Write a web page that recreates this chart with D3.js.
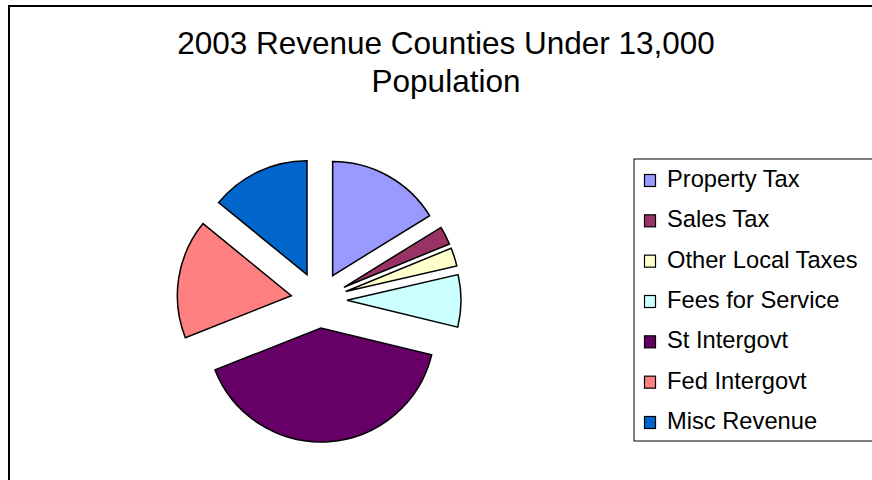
<!DOCTYPE html>
<html>
<head>
<meta charset="utf-8">
<script src="https://cdn.jsdelivr.net/npm/d3@7"></script>
<style>
  body { margin: 0; background: #fff; }
  svg { display: block; font-family: Arial, "Liberation Sans", sans-serif; }
</style>
</head>
<body>
<script>
// revenue share by source (percent of total)
var categories = ["Property Tax", "Sales Tax", "Other Local Taxes", "Fees for Service",
                  "St Intergovt", "Fed Intergovt", "Misc Revenue"];
var values = [16.2, 2.6, 2.6, 7.4, 40.2, 16.9, 14.1];
var colors = ["#9999FF", "#993366", "#FFFFCC", "#CCFFFF", "#660066", "#FF8080", "#0066CC"];
var titleLines = ["2003 Revenue Counties Under 13,000", "Population"];

var width = 872, height = 480;

var svg = d3.select("body").append("svg")
    .attr("width", width)
    .attr("height", height);

//__chart area border__//
svg.append("rect")
    .attr("x", 9).attr("y", 6)
    .attr("width", width + 20).attr("height", height + 20)
    .attr("fill", "white")
    .attr("stroke", "black")
    .attr("stroke-width", 2);

//__title__//
svg.append("g").selectAll("text")
    .data(titleLines)
    .enter().append("text")
    .attr("x", 446)
    .attr("y", (d, i) => 54 + i * 38)
    .attr("text-anchor", "middle")
    .attr("font-size", "31.5px")
    .attr("fill", "black")
    .text(d => d);

//__pie, every slice pulled out from the middle__//
var cx = 319, cy = 300, radius = 114, explode = 28;

var pie = d3.pie().sort(null).value(d => d)
    .startAngle(0).endAngle(2 * Math.PI);

var arc = d3.arc().innerRadius(0).outerRadius(radius);

svg.append("g")
    .attr("transform", "translate(" + cx + "," + cy + ")")
    .selectAll("path")
    .data(pie(values))
    .enter().append("path")
    .attr("d", arc)
    .attr("fill", (d, i) => colors[i])
    .attr("stroke", "black")
    .attr("stroke-width", 1.5)
    .attr("transform", function (d) {
        var mid = (d.startAngle + d.endAngle) / 2;
        return "translate(" + (Math.sin(mid) * explode) + "," + (-Math.cos(mid) * explode) + ")";
    });

//__legend__//
var legend = svg.append("g");

legend.append("rect")
    .attr("x", 634).attr("y", 159)
    .attr("width", 260).attr("height", 282)
    .attr("fill", "white")
    .attr("stroke", "black")
    .attr("stroke-width", 1);

var y = d3.scalePoint().domain(categories).range([181, 423]);

var item = legend.selectAll("g.item")
    .data(categories)
    .enter().append("g")
    .attr("class", "item")
    .attr("transform", d => "translate(0," + y(d) + ")");

item.append("rect")
    .attr("x", 644.5).attr("y", -6.5)
    .attr("width", 11).attr("height", 12)
    .attr("fill", (d, i) => colors[i])
    .attr("stroke", "black")
    .attr("stroke-width", 1.2);

item.append("text")
    .attr("x", 667)
    .attr("y", 6)
    .attr("font-size", "23.7px")
    .attr("fill", "black")
    .text(d => d);
</script>
</body>
</html>
